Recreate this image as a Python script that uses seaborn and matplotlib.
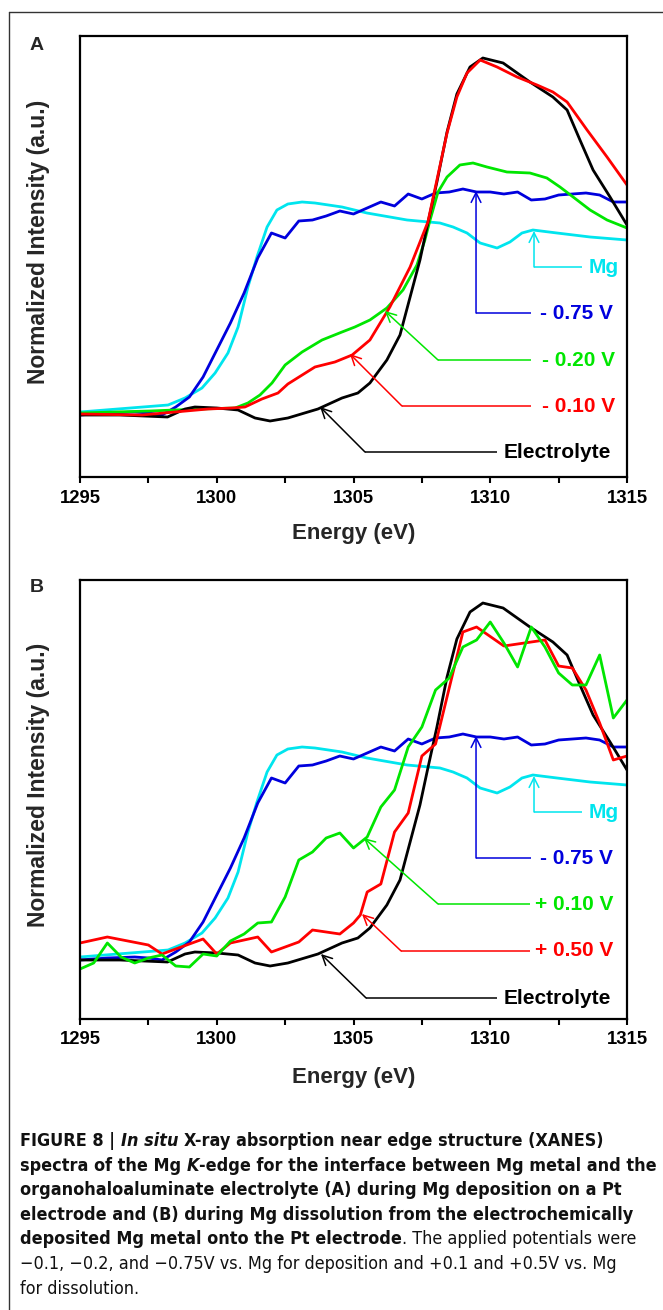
import matplotlib
matplotlib.use("Agg")
import matplotlib.pyplot as plt
import seaborn as sns
import pandas as pd
from matplotlib.lines import Line2D
from matplotlib import font_manager

# ---------------- data (intensity in a.u.) ----------------
energy_electrolyte = [1295.0, 1296.46, 1298.2, 1298.84, 1299.2, 1300.0, 1300.78, 1301.4, 1301.95,
                      1302.6, 1303.7, 1304.58, 1305.16, 1305.6, 1306.22, 1306.7, 1307.07, 1307.43,
                      1307.72, 1308.05, 1308.42, 1308.78, 1309.26, 1309.73, 1310.47, 1311.45,
                      1312.29, 1312.81, 1313.28, 1313.76, 1314.38, 1315.0]
int_electrolyte = [62, 62, 60, 68, 70, 69, 67, 59, 56, 59, 68, 79, 84, 94, 117, 142, 180, 217,
                   254, 295, 345, 383, 410, 419, 414, 395, 380, 367, 337, 307, 280, 252]

energy_m010 = [1295.0, 1297.27, 1298.47, 1299.68, 1300.56, 1301.03, 1301.65, 1302.24, 1302.6,
               1303.59, 1304.32, 1304.95, 1305.6, 1306.33, 1307.07, 1307.72, 1308.05, 1308.42,
               1308.78, 1309.15, 1309.63, 1310.25, 1310.98, 1311.71, 1312.29, 1312.81, 1313.54,
               1314.27, 1315.0]
int_m010 = [63, 62, 65, 68, 69, 70, 78, 84, 93, 110, 115, 122, 137, 170, 210, 255, 297, 344,
            380, 404, 417, 410, 400, 392, 385, 375, 347, 320, 292]

energy_m020 = [1295.0, 1297.56, 1299.39, 1300.67, 1301.14, 1301.58, 1302.02, 1302.5, 1303.12,
               1303.85, 1304.58, 1305.05, 1305.6, 1306.22, 1306.81, 1307.32, 1307.61, 1307.8,
               1308.09, 1308.42, 1308.89, 1309.37, 1309.88, 1310.61, 1311.45, 1312.07, 1312.55,
               1313.03, 1313.65, 1314.27, 1315.0]
int_m020 = [64, 66, 68, 69, 74, 82, 94, 112, 125, 137, 145, 150, 157, 169, 187, 212, 237, 257,
            285, 300, 312, 314, 310, 305, 304, 299, 290, 280, 267, 257, 249]

energy_m075 = [1295.0, 1296.0, 1297.0, 1297.5, 1298.0, 1298.5, 1299.0, 1299.5, 1300.0, 1300.5,
               1301.0, 1301.5, 1302.0, 1302.5, 1303.0, 1303.5, 1304.0, 1304.5, 1305.0, 1305.5,
               1306.0, 1306.5, 1307.0, 1307.5, 1308.0, 1308.5, 1309.0, 1309.5, 1310.0, 1310.5,
               1311.0, 1311.5, 1312.0, 1312.5, 1313.0, 1313.5, 1314.0, 1314.5, 1315.0]
int_m075 = [62, 64, 65, 64, 62, 70, 80, 100, 127, 154, 184, 219, 244, 239, 256, 257, 261, 266,
            263, 269, 275, 271, 283, 278, 284, 285, 288, 285, 285, 283, 285, 277, 278, 282, 283,
            284, 282, 275, 275]

energy_mg = [1295.0, 1298.22, 1298.84, 1299.46, 1299.94, 1300.41, 1300.78, 1301.14, 1301.47,
             1301.84, 1302.2, 1302.6, 1303.12, 1303.59, 1304.58, 1305.49, 1306.96, 1308.16,
             1308.64, 1309.15, 1309.63, 1310.25, 1310.72, 1311.16, 1311.56, 1312.44, 1313.65,
             1315.0]
int_mg = [65, 72, 79, 89, 104, 124, 150, 190, 220, 250, 267, 273, 275, 274, 270, 264, 257, 254,
          250, 244, 234, 229, 235, 244, 247, 244, 240, 237]

energy_p050 = [1295.0, 1296.0, 1297.5, 1298.0, 1298.5, 1299.5, 1300.0, 1300.5, 1301.5, 1302.0,
               1303.0, 1303.5, 1304.5, 1305.0, 1305.25, 1305.5, 1306.0, 1306.5, 1307.0, 1307.5,
               1308.0, 1309.0, 1309.5, 1310.5, 1312.0, 1312.5, 1313.0, 1313.5, 1314.0, 1314.5,
               1315.0]
int_p050 = [79, 85, 77, 68, 73, 83, 68, 79, 85, 70, 80, 92, 88, 99, 107, 130, 138, 190, 209, 266,
            278, 390, 395, 376, 382, 356, 354, 332, 299, 262, 266]

energy_p010 = [1295.0, 1295.5, 1296.0, 1296.5, 1297.0, 1297.5, 1298.0, 1298.5, 1299.0, 1299.5,
               1300.0, 1300.5, 1301.0, 1301.5, 1302.0, 1302.5, 1303.0, 1303.5, 1304.0, 1304.5,
               1305.0, 1305.5, 1306.0, 1306.5, 1307.0, 1307.5, 1308.0, 1308.5, 1309.0, 1309.5,
               1310.0, 1310.5, 1311.0, 1311.5, 1312.0, 1312.5, 1313.0, 1313.5, 1314.0, 1314.5,
               1315.0]
int_p010 = [53, 59, 79, 65, 59, 64, 67, 56, 55, 68, 66, 81, 88, 99, 100, 125, 162, 170, 184, 189,
            174, 185, 215, 232, 275, 295, 332, 344, 375, 382, 400, 379, 355, 395, 375, 349, 337,
            337, 367, 304, 322]

x_ticks = [1295, 1300, 1305, 1310, 1315]
x_minor_ticks = [1297.5, 1302.5, 1307.5, 1312.5]

colors = {"Electrolyte": "#000000", "- 0.10 V": "#ff0000", "- 0.20 V": "#00e600",
          "- 0.75 V": "#0000dd", "Mg": "#00e5ee", "+ 0.50 V": "#ff0000", "+ 0.10 V": "#00e600"}

panel_a_series = [("Mg", energy_mg, int_mg), ("- 0.75 V", energy_m075, int_m075),
                  ("- 0.20 V", energy_m020, int_m020), ("Electrolyte", energy_electrolyte, int_electrolyte),
                  ("- 0.10 V", energy_m010, int_m010)]
panel_b_series = [("Mg", energy_mg, int_mg), ("- 0.75 V", energy_m075, int_m075),
                  ("Electrolyte", energy_electrolyte, int_electrolyte),
                  ("+ 0.50 V", energy_p050, int_p050), ("+ 0.10 V", energy_p010, int_p010)]

# annotation layout: label -> (tip E, tip I, corner E, corner I, line end E, text right E)
annot_a = {"Mg": (1311.6, 246, 1311.6, 210, 1313.35, 1314.7),
           "- 0.75 V": (1309.48, 286, 1309.48, 164, 1311.5, 1314.5),
           "- 0.20 V": (1306.15, 166, 1308.09, 117, 1311.5, 1314.55),
           "- 0.10 V": (1304.87, 123, 1306.77, 71, 1311.5, 1314.55),
           "Electrolyte": (1303.78, 70, 1305.42, 25, 1310.25, 1314.4)}
annot_b = {"Mg": (1311.6, 246, 1311.6, 210, 1313.35, 1314.7),
           "- 0.75 V": (1309.48, 286, 1309.48, 164, 1311.5, 1314.5),
           "+ 0.10 V": (1305.38, 184, 1308.09, 118, 1311.45, 1314.5),
           "+ 0.50 V": (1305.31, 108, 1306.74, 71, 1311.45, 1314.5),
           "Electrolyte": (1303.81, 68, 1305.46, 24, 1310.25, 1314.4)}

caption_lines = [
    [("FIGURE 8 | ", "b"), ("In situ ", "bi"), ("X-ray absorption near edge structure (XANES)", "b")],
    [("spectra of the Mg ", "b"), ("K", "bi"), ("-edge for the interface between Mg metal and the", "b")],
    [("organohaloaluminate electrolyte (A) during Mg deposition on a Pt", "b")],
    [("electrode and (B) during Mg dissolution from the electrochemically", "b")],
    [("deposited Mg metal onto the Pt electrode", "b"), (". The applied potentials were", "r")],
    [("\u22120.1, \u22120.2, and \u22120.75V vs. Mg for deposition and +0.1 and +0.5V vs. Mg", "r")],
    [("for dissolution.", "r")],
]

# ---------------- figure ----------------
sns.set_theme(style="ticks")
plt.rcParams["font.family"] = ["Liberation Sans", "DejaVu Sans"]

W, H = 663, 1310
fig = plt.figure(figsize=(W / 100, H / 100), dpi=100)
fig.patch.set_facecolor("white")

axA = fig.add_axes([80 / W, 1 - 477 / H, 547 / W, 441 / H])
axB = fig.add_axes([80 / W, 1 - 1019 / H, 547 / W, 439 / H])


def draw_panel(ax, series, annots, ylim, label_y):
    rows = []
    for name, e, i in series:
        for ee, ii in zip(e, i):
            rows.append({"energy": ee, "intensity": ii, "series": name})
    df = pd.DataFrame(rows)
    order = [s[0] for s in series]
    sns.lineplot(data=df, x="energy", y="intensity", hue="series", hue_order=order,
                 palette={k: colors[k] for k in order}, estimator=None, sort=False,
                 legend=False, linewidth=2.0, ax=ax)
    ax.set_xlim(1295, 1315)
    ax.set_ylim(*ylim)
    ax.set_yticks([])
    ax.set_xticks(x_ticks)
    ax.set_xticks(x_minor_ticks, minor=True)
    ax.set_xticklabels([str(t) for t in x_ticks], fontsize=13.3, fontweight="bold")
    ax.tick_params(axis="x", which="both", direction="out", length=4, width=1.5,
                   pad=5, colors="black")
    for sp in ax.spines.values():
        sp.set_linewidth(1.6)
        sp.set_color("black")
        sp.set_visible(True)
    ax.set_xlabel("Energy (eV)", fontsize=16, fontweight="bold", va="center")
    ax.xaxis.set_label_coords(0.5, label_y)
    ax.set_ylabel("Normalized Intensity (a.u.)", fontsize=16.5, fontweight="bold",
                  va="center", ha="center")
    ax.yaxis.set_label_coords(-0.075, 0.533)
    for name, (te, ti, ce, ci, le, xe) in annots.items():
        c = colors[name]
        ax.plot([ce, le], [ci, ci], color=c, lw=1.1, solid_capstyle="butt")
        ax.annotate("", xy=(te, ti), xytext=(ce, ci),
                    arrowprops=dict(arrowstyle="->,head_length=0.7,head_width=0.35",
                                    color=c, lw=1.1, shrinkA=0, shrinkB=0,
                                    mutation_scale=10))
        ax.text(xe, ci, name, color=c, fontsize=15, fontweight="bold",
                ha="right", va="center")
    ax.set_facecolor("white")


draw_panel(axA, panel_a_series, annot_a, (0, 441), -0.127)
draw_panel(axB, panel_b_series, annot_b, (3, 442), -0.134)

fig.text(37 / W, 1 - 46 / H, "A", fontsize=14, fontweight="bold", ha="center", va="center")
fig.text(37 / W, 1 - 588 / H, "B", fontsize=14, fontweight="bold", ha="center", va="center")

# outer frame (left and top edges)
fig.add_artist(Line2D([9 / W, 9 / W], [0, 1 - 12 / H], transform=fig.transFigure,
                      color="#333333", lw=1.0))
fig.add_artist(Line2D([9 / W, 1], [1 - 12 / H, 1 - 12 / H], transform=fig.transFigure,
                      color="#333333", lw=1.0))

# ---------------- caption (condensed sans if one is installed) ----------------
cap_family = ["Liberation Sans", "DejaVu Sans"]
cap_stretch = "normal"
names_condensed = {}
for f in font_manager.fontManager.ttflist:
    fn = f.fname.lower()
    if ("narrow" in fn or "condensed" in fn) and "mono" not in fn and "serif" not in fn:
        names_condensed.setdefault(f.name, set()).add(f.stretch)
for pref in ["Liberation Sans Narrow", "Noto Sans", "Noto Sans SemiCondensed",
             "Noto Sans Condensed", "DejaVu Sans"]:
    if pref in names_condensed:
        cap_family = [pref, "Liberation Sans", "DejaVu Sans"]
        st = names_condensed[pref]
        for want in ["condensed", "semi-condensed", 62.5, 75, 87.5]:
            if want in st:
                cap_stretch = want
                break
        else:
            cap_stretch = sorted(st, key=str)[0]
        break

renderer = fig.canvas.get_renderer()


def props(style, size):
    return dict(fontsize=size, family=cap_family, fontstretch=cap_stretch,
                fontweight="bold" if "b" in style else "normal",
                fontstyle="italic" if "i" in style else "normal")


def width_of(text, style, size):
    t1 = fig.text(0, 0, text + "x", **props(style, size))
    t2 = fig.text(0, 0, "x", **props(style, size))
    w = t1.get_window_extent(renderer).width - t2.get_window_extent(renderer).width
    t1.remove()
    t2.remove()
    return w


base = 10.0
w2 = sum(width_of(t, s, base) for t, s in caption_lines[1])
cap_size = base * 631.0 / w2

cap_x0 = 20
cap_y0 = 1146
cap_dy = 24.6
for k, line in enumerate(caption_lines):
    x = cap_x0
    y = cap_y0 + k * cap_dy
    for text, style in line:
        fig.text(x / W, 1 - y / H, text, ha="left", va="baseline", color="#111111",
                 **props(style, cap_size))
        x += width_of(text, style, cap_size)

fig.savefig("out.png", dpi=100, facecolor="white")
